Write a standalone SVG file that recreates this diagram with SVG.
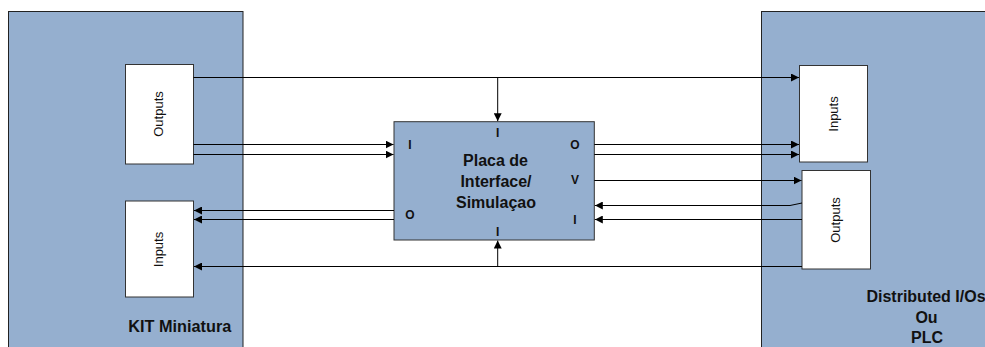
<svg xmlns="http://www.w3.org/2000/svg" width="985" height="347" viewBox="0 0 985 347">
<defs>
<marker id="ah" viewBox="0 0 10 10" refX="10" refY="5" markerWidth="8" markerHeight="8" markerUnits="userSpaceOnUse" orient="auto">
<path d="M0,0 L10,5 L0,10 z" fill="#000"/>
</marker>
<style>
.panel{fill:#95afcf;stroke:#222;stroke-width:1}
.box{fill:#fff;stroke:#333;stroke-width:1}
.core{fill:#95afcf;stroke:#333;stroke-width:1}
.lbl{font-family:"Liberation Sans",Arial,sans-serif;font-weight:bold;fill:#111}
.rot{font-family:"Liberation Sans",Arial,sans-serif;font-size:13px;fill:#111}
.arr{fill:none;stroke:#000;stroke-width:1;marker-end:url(#ah)}
</style>
</defs>
<rect width="985" height="347" fill="#fff"/>

<g id="kit">
<rect class="panel" x="8.5" y="11.5" width="234.5" height="345"/>
<text class="lbl" x="128.3" y="332.3" font-size="16" textLength="103" lengthAdjust="spacingAndGlyphs">KIT Miniatura</text>
</g>
<g id="kit-outputs">
<rect class="box" x="125.5" y="64.5" width="68" height="99.5"/>
<text class="rot" transform="translate(158.7,114) rotate(-90)" text-anchor="middle" dominant-baseline="central">Outputs</text>
</g>
<g id="kit-inputs">
<rect class="box" x="125.5" y="201" width="68" height="96"/>
<text class="rot" transform="translate(158.7,249.5) rotate(-90)" text-anchor="middle" dominant-baseline="central">Inputs</text>
</g>

<g id="plc">
<rect class="panel" x="761.5" y="11.5" width="240" height="345"/>
<text class="lbl" x="926" y="302.3" font-size="16" text-anchor="middle">Distributed I/Os</text>
<text class="lbl" x="926.5" y="323.3" font-size="16" text-anchor="middle">Ou</text>
<text class="lbl" x="927" y="343.3" font-size="16" text-anchor="middle">PLC</text>
</g>
<g id="plc-inputs">
<rect class="box" x="799.5" y="65.5" width="68" height="96.5"/>
<text class="rot" transform="translate(833,114) rotate(-90)" text-anchor="middle" dominant-baseline="central">Inputs</text>
</g>
<g id="plc-outputs">
<rect class="box" x="802" y="170.5" width="68.5" height="98.5"/>
<text class="rot" transform="translate(835.5,220) rotate(-90)" text-anchor="middle" dominant-baseline="central">Outputs</text>
</g>

<g id="interface">
<rect class="core" x="394" y="121.7" width="200.3" height="118.3"/>
<text class="lbl" x="495.5" y="166.3" font-size="16" text-anchor="middle">Placa de</text>
<text class="lbl" x="496" y="187" font-size="16" text-anchor="middle">Interface/</text>
<text class="lbl" x="496" y="207.5" font-size="16" text-anchor="middle">Simulaçao</text>
<text class="lbl" x="410" y="149.3" font-size="12" text-anchor="middle">I</text>
<text class="lbl" x="410" y="218.5" font-size="12" text-anchor="middle">O</text>
<text class="lbl" x="497.7" y="136.5" font-size="12" text-anchor="middle">I</text>
<text class="lbl" x="497.7" y="235.5" font-size="12" text-anchor="middle">I</text>
<text class="lbl" x="575" y="149.3" font-size="12" text-anchor="middle">O</text>
<text class="lbl" x="575" y="184" font-size="12" text-anchor="middle">V</text>
<text class="lbl" x="575" y="223.5" font-size="12" text-anchor="middle">I</text>
</g>

<g id="connectors">
<path class="arr" d="M193.5,77.5 H799"/>
<path class="arr" d="M497.7,77.5 V121.2"/>
<path class="arr" d="M193.5,144.5 H393.5"/>
<path class="arr" d="M193.5,154.5 H393.5"/>
<path class="arr" d="M394,210.5 H194"/>
<path class="arr" d="M394,219.5 H194"/>
<path class="arr" d="M802,266.5 H194"/>
<path class="arr" d="M497.7,266.5 V240.5"/>
<path class="arr" d="M594.3,144.5 H799"/>
<path class="arr" d="M594.3,154.5 H799"/>
<path class="arr" d="M594.3,180.5 H801.5"/>
<path class="arr" d="M802,203 L790,205.5 H594.8"/>
<path class="arr" d="M802,219.5 H594.8"/>
</g>
</svg>
